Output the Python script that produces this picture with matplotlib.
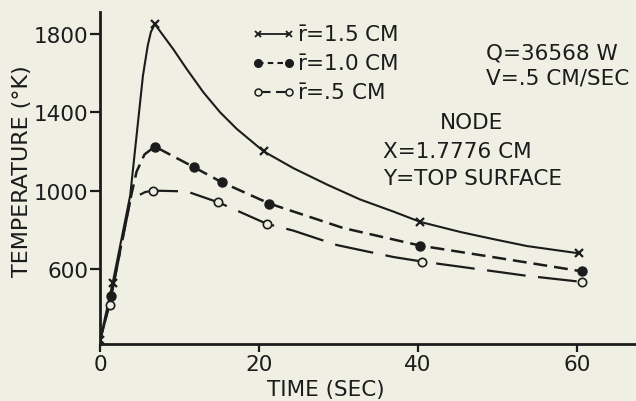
import matplotlib
matplotlib.use("Agg")
import matplotlib.pyplot as plt
from matplotlib.lines import Line2D

plt.rcParams["font.family"] = ["DejaVu Sans"]
plt.rcParams["lines.scale_dashes"] = False

# r = 1.5 cm (solid, x markers)
t_r15_pts = [0, 1.6, 6.9, 20.6, 40.3, 60.2]
T_r15_pts = [235, 530, 1850, 1200, 840, 680]
t_r15_line = [0, 1.6, 3.8, 5.4, 6.0, 6.4, 6.9, 7.8, 9.2, 10.9, 13.0, 15.1, 17.2,
              20.6, 24.3, 28.6, 32.7, 36.9, 40.3, 45.3, 49.4, 53.7, 60.2]
T_r15_line = [235, 530, 976, 1587, 1740, 1810, 1850, 1800, 1723, 1621, 1502, 1400, 1315,
              1200, 1115, 1030, 955, 893, 840, 789, 753, 717, 680]

# r = 1.0 cm (dashed, filled circles)
t_r10_pts = [1.4, 6.9, 11.8, 15.3, 21.3, 40.3, 60.6]
T_r10_pts = [462, 1225, 1120, 1043, 934, 719, 588]
t_r10_line = [0, 1.4, 3.7, 4.6, 5.6, 6.9, 11.8, 15.3, 21.3, 30.6, 40.3, 50.3, 60.6]
T_r10_line = [235, 462, 935, 1097, 1185, 1225, 1120, 1043, 934, 809, 719, 655, 588]

# r = .5 cm (long dash, open circles)
t_r05_pts = [1.2, 6.7, 14.9, 21.0, 40.5, 60.6]
T_r05_pts = [416, 1000, 940, 830, 638, 534]
t_r05_line = [0, 1.2, 3.8, 4.8, 5.7, 6.7, 10.9, 14.9, 21.0, 24.3, 29.8, 36.9,
              40.5, 47.4, 53.7, 60.6]
T_r05_line = [235, 416, 945, 975, 993, 1000, 996, 940, 830, 796, 722, 661,
              638, 600, 565, 534]

x_ticks = [0, 20, 40, 60]
y_ticks = [600, 1000, 1400, 1800]
legend_labels = [r"$\bar{\mathrm{r}}$=1.5 CM", r"$\bar{\mathrm{r}}$=1.0 CM",
                 r"$\bar{\mathrm{r}}$=.5 CM"]

ink = "#1c1c1c"
paper = "#efefe4"
fs = 15.5

fig = plt.figure(figsize=(6.36, 4.02), dpi=100, facecolor=paper)
ax = fig.add_axes([100 / 636, 57 / 402, 536 / 636, 332 / 402], facecolor=paper)

ax.plot(t_r15_line, T_r15_line, color=ink, lw=1.5)
ax.plot(t_r15_pts, T_r15_pts, ls="none", marker="x", ms=6, mew=1.6, color=ink)

ax.plot(t_r10_line, T_r10_line, color=ink, lw=1.8, dashes=(10, 5))
ax.plot(t_r10_pts, T_r10_pts, ls="none", marker="o", ms=6.5, color=ink)

ax.plot(t_r05_line, T_r05_line, color=ink, lw=1.6, dashes=(28, 9))
ax.plot(t_r05_pts, T_r05_pts, ls="none", marker="o", ms=6, mfc=paper,
        mec=ink, mew=1.2)

ax.set_xlim(0, 67.4)
ax.set_ylim(217, 1912)
ax.set_xticks(x_ticks)
ax.set_yticks(y_ticks)
ax.tick_params(axis="y", direction="out", length=7, width=1.6, pad=1.5,
               labelsize=fs, colors=ink)
ax.tick_params(axis="x", direction="out", length=6, width=1.6, pad=1.5,
               labelsize=fs, colors=ink)
for s in ["top", "right"]:
    ax.spines[s].set_visible(False)
for s in ["left", "bottom"]:
    ax.spines[s].set_linewidth(2)
    ax.spines[s].set_color(ink)

ax.set_ylabel("TEMPERATURE (°K)", fontsize=16, color=ink)
ax.yaxis.set_label_coords(-0.127, 0.524)
ax.set_xlabel("TIME (SEC)", fontsize=fs, color=ink)
ax.xaxis.set_label_coords(0.4216, -0.105)

handles = [
    Line2D([], [], color=ink, lw=1.3, marker="x", ms=5, mew=1.3),
    Line2D([], [], color=ink, lw=1.5, dashes=(4, 3), marker="o", ms=5.5),
    Line2D([], [], color=ink, lw=1.5, dashes=(9, 4), marker="o", ms=5,
           mfc=paper, mec=ink, mew=1.1),
]
ax.legend(handles, legend_labels, loc="upper left",
          bbox_to_anchor=(252 / 636, 1 - 26 / 402), bbox_transform=fig.transFigure,
          frameon=False, borderpad=0, borderaxespad=0, numpoints=2,
          handlelength=2.0, handletextpad=0.1, labelspacing=0.4,
          prop={"size": fs}, labelcolor=ink)

def put(text, px, py, ha="left"):
    fig.text(px / 636, 1 - py / 402, text, ha=ha, va="center",
             fontsize=fs, color=ink)

put("Q=36568 W", 486, 53)
put("V=.5 CM/SEC", 486, 79)
put("NODE", 472, 123, ha="center")
put("X=1.7776 CM", 383, 152)
put("Y=TOP SURFACE", 383, 179)

fig.savefig("out.png", dpi=100, facecolor=paper)
